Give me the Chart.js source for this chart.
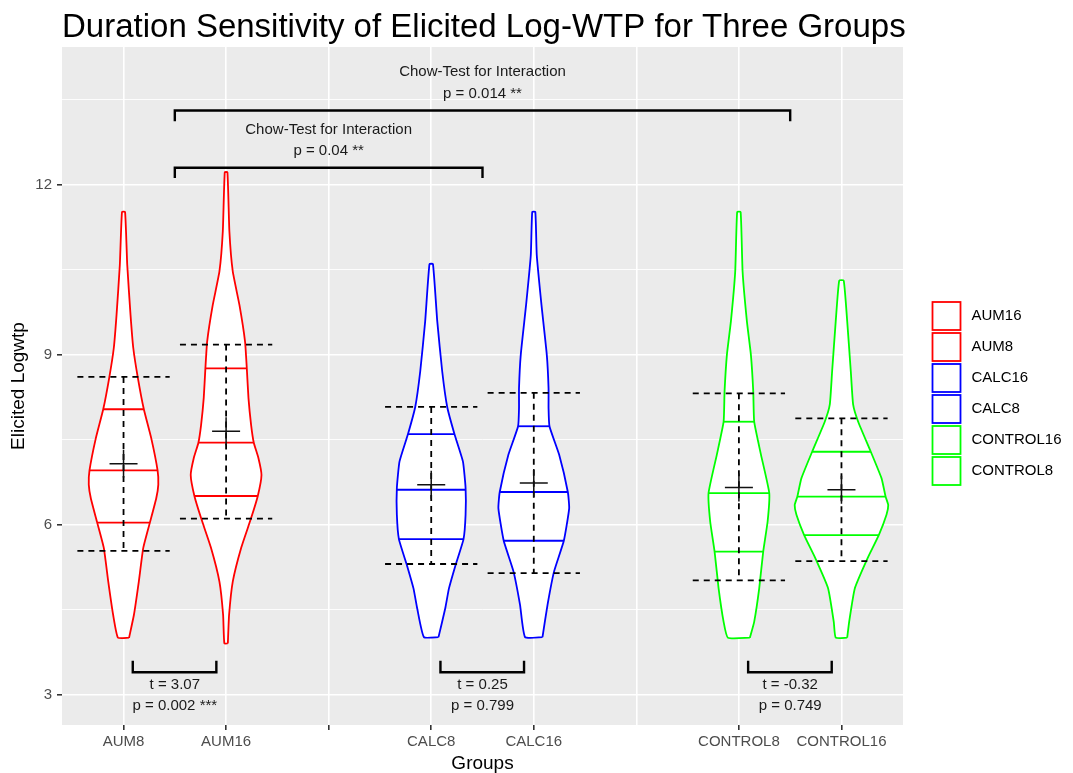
<!DOCTYPE html>
<html>
<head>
<meta charset="utf-8">
<title>Duration Sensitivity of Elicited Log-WTP</title>
<script src="https://cdn.jsdelivr.net/npm/chart.js@4.4.0/dist/chart.umd.min.js"></script>
<style>
  html, body { margin: 0; padding: 0; background: #fff; }
</style>
</head>
<body>
<canvas id="violinChart" width="1073" height="773"></canvas>
<script>
'use strict';

// ── Data ────────────────────────────────────────────────────
const groupNames  = ['AUM8', 'AUM16', 'CALC8', 'CALC16', 'CONTROL8', 'CONTROL16'];
const groupPos    = [0, 1, 3, 4, 6, 7];
const groupColors = ['#FF0000', '#FF0000', '#0000FF', '#0000FF', '#00FF00', '#00FF00'];

const xTickLabels = ['AUM8', 'AUM16', '', 'CALC8', 'CALC16', '', 'CONTROL8', 'CONTROL16'];
const xTicksNoMark = [5];
const yMajorTicks = [3, 6, 9, 12];
const yMinorTicks = [4.5, 7.5, 10.5, 13.5];

// violin outlines: log-wtp heights and density half-widths (x units)
const aum8Heights  = [4.01, 4.41, 5.0, 5.59, 6.04, 6.47, 6.71, 6.96, 7.53, 8.04, 8.59, 9.12, 9.71, 10.59, 11.52];
const aum8Widths   = [0.054, 0.101, 0.149, 0.192, 0.257, 0.319, 0.339, 0.332, 0.270, 0.198, 0.140, 0.095, 0.068, 0.036, 0.015];
const aum16Heights = [3.91, 4.41, 5.0, 5.59, 6.12, 6.51, 6.88, 7.18, 7.45, 7.76, 8.24, 8.76, 9.23, 9.88, 10.47, 11.18, 12.22];
const aum16Widths  = [0.017, 0.029, 0.065, 0.146, 0.244, 0.309, 0.345, 0.315, 0.270, 0.244, 0.218, 0.202, 0.185, 0.130, 0.065, 0.032, 0.013];
const calc8Heights = [4.02, 4.53, 4.88, 5.29, 5.75, 6.18, 6.65, 7.12, 7.60, 8.08, 8.71, 9.59, 10.60];
const calc8Widths  = [0.071, 0.137, 0.173, 0.237, 0.315, 0.335, 0.335, 0.309, 0.227, 0.156, 0.107, 0.059, 0.017];
const calc16Heights = [4.02, 4.59, 5.18, 5.72, 6.29, 6.58, 7.24, 7.74, 8.06, 8.41, 9.0, 9.88, 10.76, 11.52];
const calc16Widths  = [0.085, 0.134, 0.198, 0.293, 0.345, 0.332, 0.247, 0.153, 0.144, 0.144, 0.127, 0.075, 0.029, 0.015];
const control8Heights = [4.01, 4.29, 4.88, 5.53, 6.06, 6.56, 7.24, 7.82, 8.35, 9.0, 9.59, 10.47, 11.52];
const control8Widths  = [0.107, 0.149, 0.198, 0.237, 0.280, 0.296, 0.215, 0.149, 0.140, 0.117, 0.078, 0.036, 0.017];
const control16Heights = [4.01, 4.29, 4.88, 5.41, 5.82, 6.18, 6.35, 6.50, 6.82, 7.29, 7.82, 8.12, 8.71, 9.59, 10.31];
const control16Widths  = [0.056, 0.075, 0.130, 0.254, 0.364, 0.439, 0.456, 0.430, 0.391, 0.286, 0.163, 0.114, 0.091, 0.056, 0.022];

const violinHeights = [aum8Heights, aum16Heights, calc8Heights, calc16Heights, control8Heights, control16Heights];
const violinWidths  = [aum8Widths, aum16Widths, calc8Widths, calc16Widths, control8Widths, control16Widths];

// 25 / 50 / 75 % lines inside each violin
const quartiles = [
  [6.04, 6.96, 8.04],
  [6.51, 7.45, 8.76],
  [5.75, 6.62, 7.60],
  [5.72, 6.58, 7.74],
  [5.53, 6.56, 7.82],
  [5.82, 6.50, 7.29],
];

// mean (cross) and mean ± sd (dashed error bars)
const means  = [7.08, 7.65, 6.71, 6.74, 6.66, 6.62];
const sdHigh = [8.61, 9.18, 8.08, 8.33, 8.32, 7.88];
const sdLow  = [5.54, 6.11, 5.31, 5.15, 5.02, 5.36];
const errorBarHalf = 0.45;

// t-tests between durations
const tPairStart = [0, 3, 6];
const tStats  = ['t = 3.07', 't = 0.25', 't = -0.32'];
const tPvals  = ['p = 0.002 ***', 'p = 0.799', 'p = 0.749'];

// Chow tests for interaction
const chowFrom  = [0.5, 0.5];
const chowTo    = [6.5, 3.5];
const chowBarY  = [13.31, 12.30];
const chowFootY = [13.12, 12.12];
const chowTitle = 'Chow-Test for Interaction';
const chowPvals = ['p = 0.014 **', 'p = 0.04 **'];
const chowTextY = [[13.99, 13.61], [12.97, 12.59]];

const legendLabels = ['AUM16', 'AUM8', 'CALC16', 'CALC8', 'CONTROL16', 'CONTROL8'];
const legendColors = ['#FF0000', '#FF0000', '#0000FF', '#0000FF', '#00FF00', '#00FF00'];

const titleText = 'Duration Sensitivity of Elicited Log-WTP for Three Groups';
const FONT = '"Liberation Sans", Arial, Helvetica, sans-serif';

// ── Helpers ─────────────────────────────────────────────────
function widthAt(hs, ws, h) {
  for (let i = 1; i < hs.length; i++) {
    if (h <= hs[i]) {
      const t = (h - hs[i - 1]) / (hs[i] - hs[i - 1]);
      return ws[i - 1] + t * (ws[i] - ws[i - 1]);
    }
  }
  return ws[ws.length - 1];
}

function outline(pos, hs, ws) {
  const right = hs.map((h, i) => ({ x: pos + ws[i], y: h }));
  const left  = hs.map((h, i) => ({ x: pos - ws[i], y: h })).reverse();
  return [...right, ...left, right[0]];
}

const datasets = [];

// violins
groupNames.forEach((name, g) => {
  datasets.push({
    label: name,
    data: outline(groupPos[g], violinHeights[g], violinWidths[g]),
    borderColor: groupColors[g],
    backgroundColor: '#FFFFFF',
    borderWidth: 1.8,
    fill: 'shape',
    tension: 0.15,
    pointRadius: 0,
    order: 5,
  });
  // quartile lines
  quartiles[g].forEach(q => {
    const w = widthAt(violinHeights[g], violinWidths[g], q);
    datasets.push({
      data: [{ x: groupPos[g] - w, y: q }, { x: groupPos[g] + w, y: q }],
      borderColor: groupColors[g],
      borderWidth: 1.8,
      pointRadius: 0,
      fill: false,
      order: 4,
    });
  });
  // dashed mean ± sd bar
  const c = groupPos[g];
  datasets.push({
    data: [
      { x: c - errorBarHalf, y: sdHigh[g] }, { x: c + errorBarHalf, y: sdHigh[g] }, { x: c, y: null },
      { x: c, y: sdHigh[g] }, { x: c, y: sdLow[g] }, { x: c, y: null },
      { x: c - errorBarHalf, y: sdLow[g] }, { x: c + errorBarHalf, y: sdLow[g] },
    ],
    borderColor: '#000000',
    borderWidth: 1.8,
    borderDash: [6, 5],
    spanGaps: false,
    pointRadius: 0,
    fill: false,
    order: 3,
  });
});

// means
datasets.push({
  data: groupPos.map((p, g) => ({ x: p, y: means[g] })),
  showLine: false,
  pointStyle: 'cross',
  pointRadius: 14,
  pointBorderWidth: 1.5,
  pointBorderColor: '#111111',
  order: 2,
});

// t-test brackets
tPairStart.forEach(s => {
  datasets.push({
    data: [{ x: s + 0.09, y: 3.605 }, { x: s + 0.09, y: 3.40 }, { x: s + 0.905, y: 3.40 }, { x: s + 0.905, y: 3.605 }],
    borderColor: '#000000', borderWidth: 2.4, pointRadius: 0, fill: false, order: 1,
  });
});

// Chow brackets
chowFrom.forEach((f, i) => {
  datasets.push({
    data: [{ x: f, y: chowFootY[i] }, { x: f, y: chowBarY[i] }, { x: chowTo[i], y: chowBarY[i] }, { x: chowTo[i], y: chowFootY[i] }],
    borderColor: '#000000', borderWidth: 2.4, pointRadius: 0, fill: false, order: 1,
  });
});

// ── Plugins ─────────────────────────────────────────────────
const panelBg = {
  id: 'panelBg',
  beforeDraw(chart) {
    const { ctx, chartArea: a } = chart;
    ctx.save();
    ctx.fillStyle = '#FFFFFF';
    ctx.fillRect(0, 0, chart.width, chart.height);
    ctx.fillStyle = '#EBEBEB';
    ctx.fillRect(a.left, a.top, a.right - a.left, a.bottom - a.top);
    ctx.restore();
  }
};

const textLayer = {
  id: 'textLayer',
  afterDatasetsDraw(chart) {
    const { ctx, scales: { x, y } } = chart;
    ctx.save();
    ctx.fillStyle = '#1A1A1A';
    ctx.font = '15px ' + FONT;
    ctx.textAlign = 'center';
    ctx.textBaseline = 'middle';
    tPairStart.forEach((s, i) => {
      const px = x.getPixelForValue(s + 0.5);
      ctx.fillText(tStats[i], px, y.getPixelForValue(3.176));
      ctx.fillText(tPvals[i], px, y.getPixelForValue(2.806));
    });
    chowFrom.forEach((f, i) => {
      const px = x.getPixelForValue((f + chowTo[i]) / 2);
      ctx.fillText(chowTitle, px, y.getPixelForValue(chowTextY[i][0]));
      ctx.fillText(chowPvals[i], px, y.getPixelForValue(chowTextY[i][1]));
    });
    ctx.restore();
  },
  afterDraw(chart) {
    const { ctx, chartArea: a } = chart;
    ctx.save();
    // title
    ctx.fillStyle = '#000000';
    ctx.font = '33px ' + FONT;
    ctx.textAlign = 'left';
    ctx.textBaseline = 'alphabetic';
    ctx.fillText(titleText, a.left, 37);
    // legend
    const keyLeft = a.right + 29.5, keyTop = 302, keyStep = 31, keySize = 28;
    ctx.font = '15px ' + FONT;
    ctx.textBaseline = 'middle';
    legendLabels.forEach((lab, i) => {
      const top = keyTop + i * keyStep;
      ctx.fillStyle = '#FFFFFF';
      ctx.fillRect(keyLeft, top, keySize, keySize);
      ctx.strokeStyle = legendColors[i];
      ctx.lineWidth = 1.8;
      ctx.strokeRect(keyLeft, top, keySize, keySize);
      ctx.fillStyle = '#000000';
      ctx.fillText(lab, keyLeft + keySize + 11, top + keySize / 2);
    });
    ctx.restore();
  }
};

// ── Chart ───────────────────────────────────────────────────
new Chart(document.getElementById('violinChart'), {
  type: 'line',
  data: { datasets },
  options: {
    responsive: false,
    animation: false,
    events: [],
    layout: { padding: { top: 47, right: 170, left: 0, bottom: 0 } },
    plugins: {
      legend: { display: false },
      tooltip: { enabled: false },
      title: { display: false },
    },
    scales: {
      x: {
        type: 'linear',
        min: -0.6,
        max: 7.6,
        afterBuildTicks: s => { s.ticks = xTickLabels.map((_, i) => ({ value: i })); },
        afterFit: s => { s.height = 48; },
        ticks: {
          autoSkip: false, maxRotation: 0, padding: 3,
          color: '#4D4D4D', font: { family: FONT, size: 15 },
          callback: v => xTickLabels[v],
        },
        grid: {
          color: '#FFFFFF', lineWidth: 1.6, tickLength: 5,
          tickColor: c => xTicksNoMark.includes(c.index) ? 'rgba(0,0,0,0)' : '#333333',
        },
        border: { display: false },
        title: { display: true, text: 'Groups', color: '#000000', font: { family: FONT, size: 19 }, padding: { top: 0, bottom: -2 } },
      },
      y: {
        type: 'linear',
        min: 2.47,
        max: 14.43,
        afterBuildTicks: s => { s.ticks = [...yMajorTicks, ...yMinorTicks].sort((a, b) => a - b).map(v => ({ value: v })); },
        afterFit: s => { s.width = 62; },
        ticks: {
          padding: 5, color: '#4D4D4D', font: { family: FONT, size: 15 },
          callback: v => yMajorTicks.includes(v) ? String(v) : '',
        },
        grid: {
          color: '#FFFFFF', tickLength: 5,
          lineWidth: c => yMajorTicks.includes(c.tick.value) ? 1.6 : 0.9,
          tickColor: c => yMajorTicks.includes(c.tick.value) ? '#333333' : 'rgba(0,0,0,0)',
        },
        border: { display: false },
        title: { display: true, text: 'Elicited Logwtp', color: '#000000', font: { family: FONT, size: 19 }, padding: { top: 7, bottom: 0 } },
      },
    },
  },
  plugins: [panelBg, textLayer],
});
</script>
</body>
</html>
